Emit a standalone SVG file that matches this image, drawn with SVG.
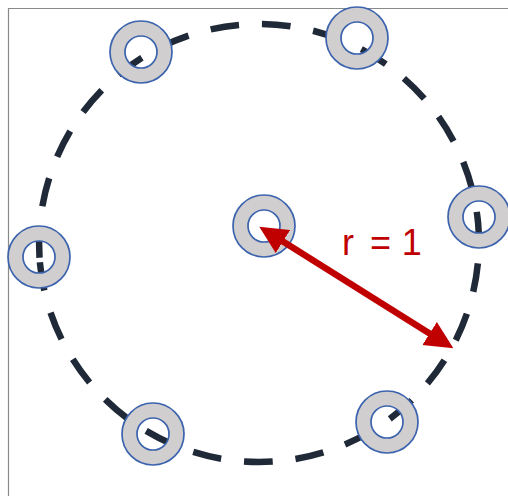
<svg xmlns="http://www.w3.org/2000/svg" xmlns:xlink="http://www.w3.org/1999/xlink" width="508" height="496" viewBox="0 0 508 496">
  <style>
    .frame { fill: none; stroke: #8a8a8a; stroke-width: 1.2; }
    .orbit { fill: none; stroke: #1f2937; stroke-width: 6.5; stroke-dasharray: 28.71 23; stroke-linecap: butt; }
    .ring { fill: #d0cece; fill-rule: evenodd; stroke: #3c63ad; stroke-width: 1.7; }
    .radius { stroke: #c00000; stroke-width: 6.5; fill: none; }
    .label { font-family: "Liberation Sans", Arial, sans-serif; font-size: 36px; fill: #c00000; }
  </style>
  <defs>
    <path id="donut" d="M-31,0 a31,31 0 1,0 62,0 a31,31 0 1,0 -62,0 Z M-16,0 a16,16 0 1,0 32,0 a16,16 0 1,0 -32,0 Z"/>
    <marker id="head" viewBox="0 0 28 28" refX="8" refY="14" markerWidth="28" markerHeight="28" markerUnits="userSpaceOnUse" orient="auto-start-reverse">
      <path d="M0,0.4 L28,14 L0,27.6 Z" fill="#c00000"/>
    </marker>
  </defs>
  <rect width="508" height="496" fill="#ffffff"/>
  <path class="frame" d="M8.5,496 V8.5 H508"/>
  <g id="connectors">
    <path id="orbit" class="orbit" d="M39.84,262.18 A220,220 0 0,0 478.16,223.82 A220,220 0 0,0 39.84,262.18 Z"/>
  </g>
  <g id="node-top-left" transform="translate(141,52)"><use xlink:href="#donut" class="ring"/></g>
  <g id="node-top-right" transform="translate(357,38)"><use xlink:href="#donut" class="ring"/></g>
  <g id="node-right" transform="translate(479,217)"><use xlink:href="#donut" class="ring"/></g>
  <g id="node-left" transform="translate(39,257)"><use xlink:href="#donut" class="ring"/></g>
  <g id="node-bottom-left" transform="translate(153,434)"><use xlink:href="#donut" class="ring"/></g>
  <g id="node-bottom-right" transform="translate(387,422)"><use xlink:href="#donut" class="ring"/></g>
  <g id="node-center" transform="translate(264,226)"><use xlink:href="#donut" class="ring"/></g>
  <g id="radius-arrow">
    <line class="radius" x1="276.2" y1="237.3" x2="436.4" y2="337.7" marker-start="url(#head)" marker-end="url(#head)"/>
  </g>
  <text class="label" x="341.9" y="255">r <tspan dx="6.1">=</tspan> <tspan dx="0.7">1</tspan></text>
</svg>
